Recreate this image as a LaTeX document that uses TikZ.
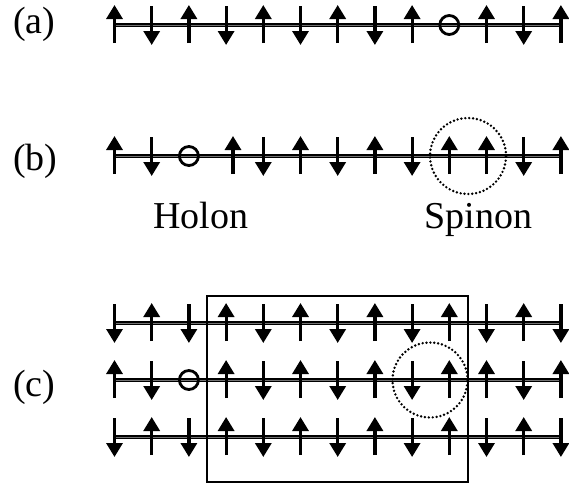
\documentclass[tikz,border=0pt]{standalone}
\usepackage{fontspec}
\setmainfont{Liberation Serif}
\usetikzlibrary{arrows.meta}
\begin{document}
\begin{tikzpicture}[x=1pt,y=-1pt,
  chain/.style={line width=1.3pt, double=black!55, double distance=1.0pt},
  spin/.style={line width=3.2pt, -{Triangle[width=16pt,length=14pt]}},
  holon/.style={circle, draw, line width=2.8pt, minimum size=19pt, inner sep=0pt},
  spinon/.style={line width=2.7pt, line cap=round, dash pattern=on 0pt off 3.9pt},
  lab/.style={font=\fontsize{38}{40}\selectfont, inner sep=0pt},
  box/.style={draw, line width=2.9pt}
]
\useasboundingbox (0,0) rectangle (569,485);
\def\spinup#1#2{\draw[spin] (#1,#2+18) -- (#1,#2-20);}
\def\spindn#1#2{\draw[spin] (#1,#2-19) -- (#1,#2+20);}
% chains
\draw[chain] (114.5,25) -- (561,25);
\draw[chain] (114.5,156) -- (561,156);
\draw[chain] (114.5,323) -- (561,323);
\draw[chain] (114.5,380) -- (561,380);
\draw[chain] (114.5,437) -- (561,437);
% box
\draw[box] (207,296) rectangle (468,482);
% row (a)
\foreach \i in {0,...,12}{
  \pgfmathsetmacro\xx{114.5+37.2*\i}
  \ifnum\i=9\relax\else
    \ifodd\i \spindn{\xx}{25}\else \spinup{\xx}{25}\fi
  \fi}
\node[holon] (ha) at (449.3,25) {};
% row (b)
\foreach \xx in {114.5,233,300.5,374.9,449.3,486.5,560.9}{\spinup{\xx}{156}}
\foreach \xx in {151.7,263.3,337.7,412.1,523.7}{\spindn{\xx}{156}}
\node[holon] (hb) at (188.9,156) {};
% rows (c)
\foreach \i in {0,...,12}{
  \pgfmathsetmacro\xx{114.5+37.2*\i}
  \ifodd\i \spinup{\xx}{323}\spinup{\xx}{437}\else \spindn{\xx}{323}\spindn{\xx}{437}\fi}
\foreach \i in {0,3,5,7,9,10,12}{
  \pgfmathsetmacro\xx{114.5+37.2*\i}
  \spinup{\xx}{380}}
\foreach \i in {1,4,6,8,11}{
  \pgfmathsetmacro\xx{114.5+37.2*\i}
  \spindn{\xx}{380}}
\node[holon] (hc) at (188.9,380) {};
% spinons
\draw[spinon] (468,156) circle[radius=38pt];
\draw[spinon] (430,380) circle[radius=37.5pt];
% labels
\node[lab, anchor=base west] (la) at (13,33) {(a)};
\node[lab, anchor=base west] (lb) at (13,170) {(b)};
\node[lab, anchor=base west] (lc) at (13,396) {(c)};
\node[lab, anchor=base] (holonlabel) at (200.5,228) {Holon};
\node[lab, anchor=base] (spinonlabel) at (478.5,228) {Spinon};
\end{tikzpicture}
\end{document}
